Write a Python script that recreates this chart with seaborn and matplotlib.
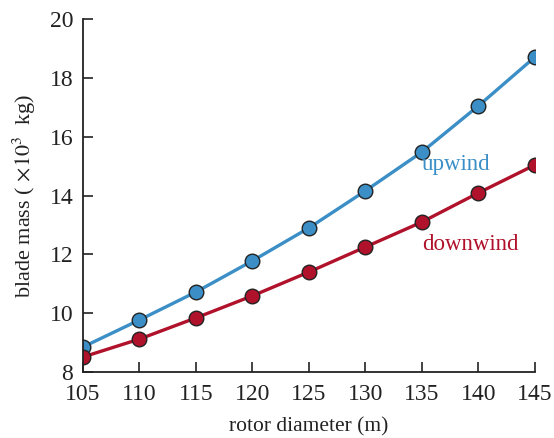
import matplotlib
matplotlib.use("Agg")
import matplotlib.pyplot as plt
import seaborn as sns
import pandas as pd

diameter = [105, 110, 115, 120, 125, 130, 135, 140, 145]
upwind = [8.85, 9.77, 10.72, 11.78, 12.90, 14.16, 15.48, 17.05, 18.71]
downwind = [8.51, 9.12, 9.84, 10.59, 11.40, 12.25, 13.10, 14.09, 15.04]
xticks = [105, 110, 115, 120, 125, 130, 135, 140, 145]
yticks = [8, 10, 12, 14, 16, 18, 20]

sns.set_theme(style="ticks")
plt.rcParams['font.family'] = ['Liberation Serif', 'DejaVu Serif']
plt.rcParams['mathtext.fontset'] = 'stix'

blue = "#3b8fc6"
red = "#b0112b"

df = pd.DataFrame({
    "diameter": diameter * 2,
    "mass": upwind + downwind,
    "case": ["upwind"] * len(diameter) + ["downwind"] * len(diameter),
})

fig = plt.figure(figsize=(5.54, 4.38), dpi=100)
ax = fig.add_axes([0.1498, 0.1507, 0.8159, 0.8059])

sns.lineplot(data=df, x="diameter", y="mass", hue="case",
             palette={"upwind": blue, "downwind": red},
             marker="o", markersize=10.5, markeredgecolor="#222222",
             markeredgewidth=1.0, linewidth=2.4, legend=False, ax=ax,
             clip_on=True)

ax.set_xlim(105, 145)
ax.set_ylim(8, 20)
ax.set_xticks(xticks)
ax.set_yticks(yticks)
ax.tick_params(direction="in", length=7, width=1.2, labelsize=17, color="#222222",
               labelcolor="#222222")
ax.tick_params(axis="x", pad=8.5)
ax.tick_params(axis="y", pad=7)
for s in ["top", "right"]:
    ax.spines[s].set_visible(False)
for s in ["left", "bottom"]:
    ax.spines[s].set_linewidth(1.3)
    ax.spines[s].set_color("#222222")

ax.set_xlabel("rotor diameter (m)", fontsize=15.5, color="#222222", labelpad=9)
ax.set_ylabel(r"blade mass ( $\times10^3$  kg)", fontsize=16, color="#222222", labelpad=8)

ax.text(138.0, 15.04, "upwind", color=blue, fontsize=16.5, ha="center", va="center")
ax.text(139.25, 12.32, "downwind", color=red, fontsize=16.5, ha="center", va="center")

fig.savefig("out.png", dpi=100)
